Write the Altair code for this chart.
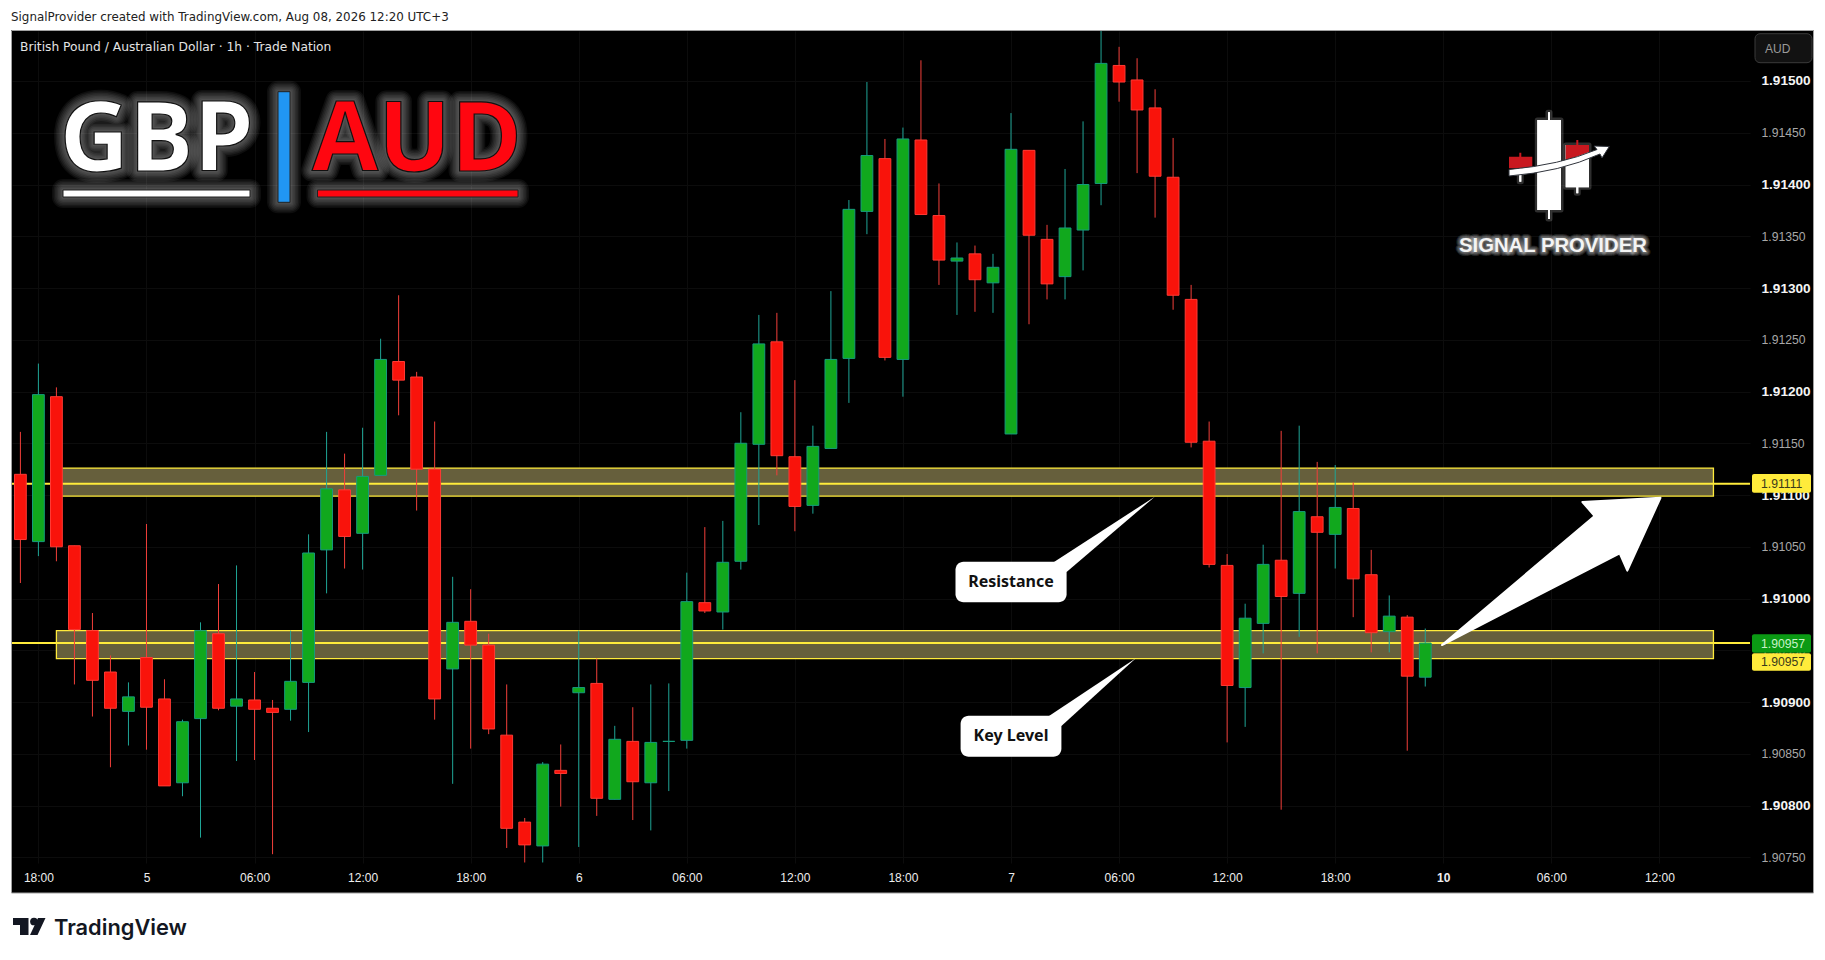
import json

import altair as alt
import pandas as pd

OPENS = [1.91120, 1.91055, 1.91195, 1.91051, 1.90969, 1.90929, 1.90891, 1.90943, 1.90903, 1.90822,
         1.90884, 1.90966, 1.90896, 1.90902, 1.90894, 1.90893, 1.90919, 1.91047, 1.91105, 1.91063,
         1.91119, 1.91229, 1.91214, 1.91125, 1.90932, 1.90978, 1.90955, 1.90868, 1.90784, 1.90761,
         1.90834, 1.90909, 1.90918, 1.90806, 1.90862, 1.90822, 1.90862, 1.90863, 1.90996, 1.90987,
         1.91036, 1.91149, 1.91248, 1.91137, 1.91090, 1.91145, 1.91232, 1.91374, 1.91425, 1.91231,
         1.91443, 1.91370, 1.91326, 1.91333, 1.91305, 1.91159, 1.91433, 1.91347, 1.91311, 1.91356,
         1.91401, 1.91515, 1.91501, 1.91474, 1.91407, 1.91289, 1.91152, 1.91032, 1.90914, 1.90976,
         1.91037, 1.91005, 1.91079, 1.91062, 1.91087, 1.91023, 1.90968, 1.90982, 1.90924]
HIGHS = [1.91161, 1.91227, 1.91204, 1.91051, 1.90986, 1.90945, 1.90919, 1.91072, 1.90922, 1.90883,
         1.90977, 1.91014, 1.91032, 1.90929, 1.90902, 1.90969, 1.91062, 1.91161, 1.91140, 1.91165,
         1.91251, 1.91293, 1.91219, 1.91171, 1.91021, 1.91009, 1.90966, 1.90917, 1.90788, 1.90842,
         1.90859, 1.90969, 1.90942, 1.90877, 1.90895, 1.90917, 1.90918, 1.91025, 1.91069, 1.91075,
         1.91180, 1.91274, 1.91276, 1.91211, 1.91167, 1.91297, 1.91385, 1.91499, 1.91444, 1.91455,
         1.91520, 1.91401, 1.91344, 1.91341, 1.91333, 1.91469, 1.91433, 1.91361, 1.91415, 1.91461,
         1.91549, 1.91533, 1.91522, 1.91492, 1.91445, 1.91303, 1.91171, 1.91043, 1.90995, 1.91052,
         1.91162, 1.91167, 1.91132, 1.91129, 1.91112, 1.91047, 1.91003, 1.90984, 1.90971]
LOWS = [1.91015, 1.91041, 1.91036, 1.90917, 1.90886, 1.90837, 1.90858, 1.90854, 1.90819, 1.90809,
        1.90769, 1.90892, 1.90843, 1.90844, 1.90753, 1.90882, 1.90871, 1.91005, 1.91029, 1.91028,
        1.91119, 1.91177, 1.91085, 1.90883, 1.90821, 1.90855, 1.90869, 1.90759, 1.90745, 1.90745,
        1.90799, 1.90760, 1.90790, 1.90806, 1.90786, 1.90776, 1.90814, 1.90855, 1.90986, 1.90970,
        1.91028, 1.91071, 1.91119, 1.91065, 1.91082, 1.91145, 1.91189, 1.91352, 1.91230, 1.91195,
        1.91371, 1.91303, 1.91274, 1.91277, 1.91276, 1.91159, 1.91265, 1.91289, 1.91289, 1.91317,
        1.91380, 1.91480, 1.91411, 1.91368, 1.91279, 1.91146, 1.91030, 1.90861, 1.90876, 1.90947,
        1.90796, 1.90963, 1.90947, 1.91029, 1.90982, 1.90948, 1.90948, 1.90853, 1.90915]
CLOSES = [1.91057, 1.91197, 1.91050, 1.90970, 1.90921, 1.90894, 1.90905, 1.90895, 1.90819, 1.90881,
          1.90969, 1.90894, 1.90903, 1.90893, 1.90890, 1.90920, 1.91044, 1.91106, 1.91060, 1.91118,
          1.91231, 1.91211, 1.91125, 1.90903, 1.90977, 1.90955, 1.90874, 1.90778, 1.90762, 1.90840,
          1.90831, 1.90914, 1.90807, 1.90864, 1.90823, 1.90861, 1.90862, 1.90997, 1.90988, 1.91035,
          1.91150, 1.91246, 1.91138, 1.91089, 1.91147, 1.91231, 1.91376, 1.91428, 1.91233, 1.91444,
          1.91371, 1.91327, 1.91329, 1.91308, 1.91320, 1.91434, 1.91351, 1.91304, 1.91358, 1.91400,
          1.91517, 1.91499, 1.91472, 1.91408, 1.91293, 1.91151, 1.91033, 1.90916, 1.90981, 1.91033,
          1.91002, 1.91084, 1.91064, 1.91088, 1.91019, 1.90967, 1.90983, 1.90925, 1.90957]

Y_TICKS = [1.9075, 1.9080, 1.9085, 1.9090, 1.9095, 1.9100, 1.9105, 1.9110,
           1.9115, 1.9120, 1.9125, 1.9130, 1.9135, 1.9140, 1.9145, 1.9150]
X_TICKS = [1, 7, 13, 19, 25, 31, 37, 43, 49, 55, 61, 67, 73, 79, 85, 91]
X_LABELS = ["18:00", "5", "06:00", "12:00", "18:00", "6", "06:00", "12:00",
            "18:00", "7", "06:00", "12:00", "18:00", "10", "06:00", "12:00"]

ZONE_TOPS = [1.91126, 1.90969]
ZONE_BOTTOMS = [1.91099, 1.90942]
ZONE_STARTS = [2, 2]
ZONE_ENDS = [94, 94]
PRICE_LINES = [1.91111, 1.90957]

LEFT, TOP, RIGHT, BOTTOM = 12, 31, 1750, 863
SANS = "Liberation Sans"
HEAD = "Open Sans"
YELLOW = "#ffeb3b"
RED = "#ff0610"

frame = pd.DataFrame({"i": range(len(OPENS)), "open": OPENS, "high": HIGHS, "low": LOWS, "close": CLOSES})
frame["dir"] = ["up" if c >= o else "down" for o, c in zip(OPENS, CLOSES)]
frame["top"] = frame[["open", "close"]].max(axis=1)
frame["bottom"] = frame[["open", "close"]].min(axis=1)
zones = pd.DataFrame({"x1": ZONE_STARTS, "x2": ZONE_ENDS, "y1": ZONE_TOPS, "y2": ZONE_BOTTOMS})
lines = pd.DataFrame({"price": PRICE_LINES})
one = pd.DataFrame({"n": [0]})

x_scale = alt.Scale(domain=[-0.466, 96.03], nice=False, zero=False, padding=0)
y_scale = alt.Scale(domain=[1.907445, 1.915483], nice=False, zero=False)
wick_colors = alt.Scale(domain=["up", "down"], range=["#1fa596", "#f23f3a"])
fill_colors = alt.Scale(domain=["up", "down"], range=["#11a81d", "#f9130b"])
edge_colors = alt.Scale(domain=["up", "down"], range=["#159c7c", "#ff3a34"])

major = "round(datum.value * 100000) % 100 == 0"
y_axis = alt.Axis(
    values=Y_TICKS, orient="right", format=".5f", title=None, domain=False, ticks=False,
    labelPadding=11, labelAlign="left", labelFont=SANS, labelOverlap=False, labelBound=False, labelFlush=False,
    labelFontSize=alt.condition(major, alt.value(13.6), alt.value(12.2)),
    labelFontWeight=alt.condition(major, alt.value("bold"), alt.value("normal")),
    labelColor=alt.condition(major, alt.value("#f4f4f4"), alt.value("#a8a8a8")),
    gridColor="#0c0c0c", gridWidth=1,
)
x_axis = alt.Axis(
    values=X_TICKS, title=None, domain=False, ticks=False, labelPadding=9, labelAngle=0, labelFont=SANS,
    labelFontSize=12, labelColor="#eeeeee", labelOverlap=False, labelBound=False, labelFlush=False,
    labelFontWeight=alt.condition("datum.value == 79", alt.value("bold"), alt.value("normal")),
    labelExpr=json.dumps(X_LABELS) + "[(datum.value - 1) / 6]",
    gridColor="#0c0c0c", gridWidth=1,
)


def px(value):
    return value - LEFT


def py(value):
    return value - TOP


def box(x1, y1, x2, y2, fill, **style):
    return alt.Chart(one).mark_rect(fill=fill, **style).encode(
        x=alt.value(px(x1)), x2=alt.value(px(x2)), y=alt.value(py(y1)), y2=alt.value(py(y2))
    )


def label(text, x, y, size, color, font=SANS, weight="normal", align="left", **style):
    return alt.Chart(one).mark_text(
        text=text, font=font, fontSize=size, fontWeight=weight, align=align, baseline="middle", color=color, **style
    ).encode(x=alt.value(px(x)), y=alt.value(py(y)))


def shape(path, fill="white", **style):
    # path is in page pixels; size 4 makes a custom symbol draw 1:1
    return alt.Chart(one).mark_point(
        shape=path, size=4, filled=True, fill=fill, opacity=1, strokeWidth=style.pop("strokeWidth", 0), **style
    ).encode(x=alt.value(px(0)), y=alt.value(py(0)))


def poly(*points):
    return "M" + " L".join(f"{x},{y}" for x, y in points) + " Z"


def glow_text(text, x, y, size, fill, font=HEAD, widths=(22, 19, 16, 13, 10, 7, 4), alpha=0.055, edge="#111111", edge_width=1.2, align="center"):
    parts = [
        label(text, x, y, size, "white", font, "bold", align, stroke="white", strokeWidth=w, strokeOpacity=alpha,
              fillOpacity=0, strokeJoin="round")
        for w in widths
    ]
    parts.append(label(text, x, y, size, fill, font, "bold", align, stroke=edge, strokeWidth=edge_width))
    return parts


def glow_box(x1, y1, x2, y2, fill):
    parts = [
        box(x1, y1, x2, y2, "white", stroke="white", strokeWidth=w, strokeOpacity=0.05, fillOpacity=0, strokeJoin="round")
        for w in (22, 19, 16, 13, 10, 7, 4)
    ]
    parts.append(box(x1, y1, x2, y2, fill, stroke="#222222", strokeWidth=1))
    return parts


zone_layer = alt.Chart(zones).mark_rect(fill="#665f3c", stroke=YELLOW, strokeWidth=1.3).encode(
    x=alt.X("x1:Q", scale=x_scale, axis=x_axis),
    x2="x2:Q",
    y=alt.Y("y1:Q", scale=y_scale, axis=y_axis),
    y2="y2:Q",
)
line_layer = alt.Chart(lines).mark_rule(color=YELLOW, strokeWidth=2).encode(
    y=alt.Y("price:Q", scale=y_scale, axis=y_axis)
)
wick_layer = alt.Chart(frame).mark_rule(strokeWidth=1).encode(
    x=alt.X("i:Q", scale=x_scale, axis=x_axis),
    y=alt.Y("low:Q", scale=y_scale, axis=y_axis),
    y2="high:Q",
    color=alt.Color("dir:N", scale=wick_colors, legend=None),
)
body_layer = alt.Chart(frame).mark_bar(size=11.8, orient="vertical", strokeWidth=1).encode(
    x=alt.X("i:Q", scale=x_scale, axis=x_axis),
    y=alt.Y("top:Q", scale=y_scale, axis=y_axis),
    y2="bottom:Q",
    fill=alt.Fill("dir:N", scale=fill_colors, legend=None),
    stroke=alt.Stroke("dir:N", scale=edge_colors, legend=None),
)

layers = [zone_layer, line_layer, wick_layer, body_layer]

# price scale tags
layers += [
    box(1752, 474, 1811, 492.7, YELLOW, cornerRadius=2),
    box(1752, 634.3, 1811, 652.7, "#0b9a14", cornerRadius=2),
    box(1752, 653.3, 1811, 670.7, YELLOW, cornerRadius=2),
    label(f"{PRICE_LINES[0]:.5f}", 1761, 483.5, 12.2, "#3a3a1a"),
    label(f"{CLOSES[-1]:.5f}", 1761, 643.7, 12.2, "#c8f2c8"),
    label(f"{PRICE_LINES[1]:.5f}", 1761, 661.8, 12.2, "#3a3a1a"),
    box(1755, 33.7, 1812, 62.7, "#121212", stroke="#3a3a3a", strokeWidth=1, cornerRadius=5),
    label("AUD", 1765, 48.5, 12, "#9a9a9a"),
]

# callouts and arrow
layers += [
    box(955.5, 561.7, 1066.6, 602.3, "white", cornerRadius=8),
    shape(poly((1054, 562), (1154.8, 496.7), (1066.6, 572))),
    label("Resistance", 1011, 581.5, 16, "#111111", "Noto Sans", "bold", "center"),
    box(960.6, 715.7, 1061.4, 756.7, "white", cornerRadius=8),
    shape(poly((1049, 716), (1135.8, 658.3), (1061.4, 726))),
    label("Key Level", 1011, 735.5, 16, "#111111", "Noto Sans", "bold", "center"),
    shape(poly((1442, 645), (1594.6, 516), (1582.4, 502), (1660.5, 497.8), (1627.3, 570.7), (1619.7, 553.3)),
          stroke="white", strokeWidth=2, strokeJoin="round"),
]

# white page around the chart, over any wick that leaves the frame
layers += [
    box(8, 8, 1817, 30, "white"),
    box(8, 8, 11, 948, "white"),
    box(1813.5, 8, 1817, 948, "white"),
    box(8, 893, 1817, 948, "white"),
    box(11.5, 30.5, 1813.5, 893, "transparent", stroke="#a0a0a0", strokeWidth=1),
]

# header, legend and footer
layers += [
    label("SignalProvider created with TradingView.com, Aug 08, 2026 12:20 UTC+3", 11, 16.5, 11.9, "#222222", "DejaVu Sans"),
    label("British Pound / Australian Dollar · 1h · Trade Nation", 20, 47, 12.25, "#e4e4e4", "DejaVu Sans"),
    shape("M13,918 L28.5,918 L28.5,935 L20,935 L20,925 L13,925 Z", fill="#131722"),
    alt.Chart(one).mark_point(filled=True, fill="#131722", opacity=1, size=60).encode(x=alt.value(px(34)), y=alt.value(py(921.5))),
    shape(poly((38, 918), (45.5, 918), (37.5, 935), (30, 935)), fill="#131722"),
    label("TradingView", 54, 927.5, 21.8, "#131722", "Inter", 600),
]

# GBP | AUD badge
layers += glow_text("GBP", 156.7, 141.6, 96, "white")
layers += glow_text("AUD", 417, 141.6, 96, RED)
layers += glow_box(63, 190, 250, 197, "white")
layers += glow_box(278, 91.7, 290, 202.3, "#2196f3")
layers += glow_box(317.5, 190, 518, 197, RED)

# signal provider logo
logo_glow = dict(stroke="white", strokeWidth=5, strokeOpacity=0.18, strokeJoin="round")
main_candle = "M1548,112.3 L1550,112.3 L1550,120 L1561,120 L1561,210 L1550,210 L1550,219 L1548,219 L1548,210 L1537.3,210 L1537.3,120 L1548,120 Z"
right_candle = "M1565.7,145 L1589,145 L1589,187.3 L1578.3,187.3 L1578.3,193.3 L1576.3,193.3 L1576.3,187.3 L1565.7,187.3 Z"
left_stem = "M1519.3,165 L1521.3,165 L1521.3,181.7 L1519.3,181.7 Z"
layers += [
    shape(main_candle, **logo_glow),
    shape(right_candle, **logo_glow),
    shape(left_stem, **logo_glow),
    shape(main_candle),
    shape(right_candle),
    shape(left_stem),
    shape("M1509,156.7 L1519.3,156.7 L1519.3,152.7 L1521.3,152.7 L1521.3,156.7 L1532.3,156.7 L1532.3,168.3 L1509,168.3 Z", fill="#c8181f"),
    shape("M1565.7,145 L1576.3,145 L1576.3,140 L1578.3,140 L1578.3,145 L1589,145 L1589,152 Q1577,157 1565.7,160 Z", fill="#c8181f"),
    shape("M1509,169.5 Q1560,165 1597,149.5 L1594,146 L1609.3,146.5 L1602,158 L1600,154 Q1560,172 1509,176 Z", stroke="#30343c", strokeWidth=1),
]
layers += glow_text("SIGNAL PROVIDER", 1459, 246, 20.3, "#f4f4f4", SANS, (8, 6, 4, 2), 0.12, "#f4f4f4", 0, "left")

chart = alt.layer(*layers).resolve_scale(x="shared", y="shared").properties(
    width=RIGHT - LEFT,
    height=BOTTOM - TOP,
    background="black",
    padding={"left": LEFT - 8, "top": TOP - 8, "right": 1817 - RIGHT, "bottom": 948 - BOTTOM},
    autosize=alt.AutoSizeParams(type="none"),
).configure_view(stroke=None)

chart.save("out.html", embed_options={"renderer": "svg", "actions": False})
